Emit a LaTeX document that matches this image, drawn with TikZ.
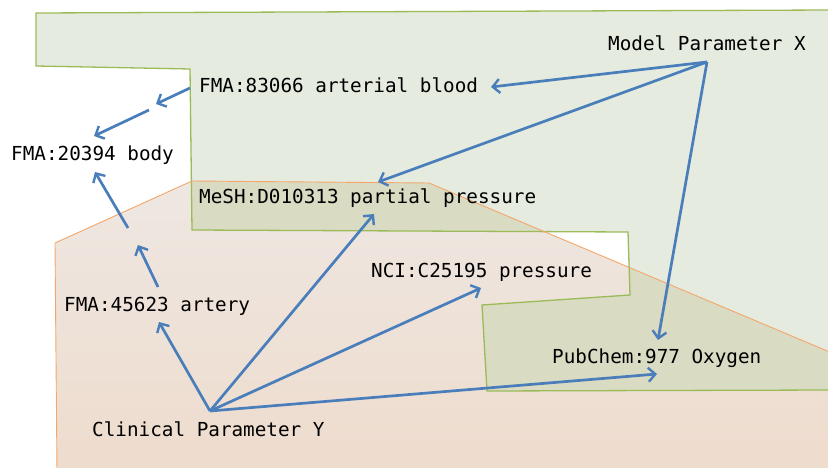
\documentclass[tikz,border=0pt]{standalone}
\usepackage{fontspec}
\newfontfamily\monofont{DejaVu Sans Mono}
\usetikzlibrary{arrows.meta}
\definecolor{gfill}{HTML}{E6EBDF}
\definecolor{ofilltop}{HTML}{EEE7E2}
\definecolor{ofillbot}{HTML}{EEDCCD}
\definecolor{ovfill}{HTML}{D9DBC3}
\definecolor{gline}{HTML}{9BBB59}
\definecolor{oline}{HTML}{F5A66B}
\definecolor{arr}{HTML}{4A7EBB}
\tikzset{
  lbl/.style={anchor=base west, inner sep=0pt, font=\monofont\fontsize{19.3pt}{22pt}\selectfont},
  conn/.style={draw=arr, line width=2.7pt, -{Straight Barb[length=7pt,width=14pt,line width=2.4pt]}}
}
\begin{document}
\begin{tikzpicture}[x=1pt,y=-1pt]
\useasboundingbox (0,0) rectangle (828,468);
\def\greenpath{(36,13) -- (832,10) -- (832,390) -- (487,391) -- (482,305) -- (630,295) -- (628,232) -- (192,230) -- (190,69) -- (36,66) -- cycle}
\def\orangepath{(55,243) -- (192,181) -- (429,183) -- (832,353) -- (832,472) -- (57,472) -- cycle}
\fill[gfill] \greenpath;
\shade[top color=ofilltop, bottom color=ofillbot] \orangepath;
\begin{scope}
  \clip \greenpath;
  \fill[ovfill] \orangepath;
\end{scope}
\draw[gline, line width=1.3pt] \greenpath;
\draw[oline, line width=0.9pt] \orangepath;

\node[lbl] (mx) at (608,50.7) {Model Parameter X};
\node[lbl] (ab) at (199,92.7) {FMA:83066 arterial blood};
\node[lbl] (bd) at (11,161) {FMA:20394 body};
\node[lbl] (ms) at (199,204) {MeSH:D010313 partial pressure};
\node[lbl] (nc) at (371,277) {NCI:C25195 pressure};
\node[lbl] (ar) at (64,311) {FMA:45623 artery};
\node[lbl] (pc) at (552,363) {PubChem:977 Oxygen};
\node[lbl] (cy) at (92,436) {Clinical Parameter Y};

\coordinate (mxo) at (707,62);
\coordinate (abin) at (491,87);
\coordinate (msin) at (378,182);
\coordinate (pcin) at (658,340);
\coordinate (about) at (190,88);
\coordinate (mid1) at (156,104);
\coordinate (mid1b) at (149,110);
\coordinate (bdin1) at (94,136);
\coordinate (mid2) at (128,228);
\coordinate (bdin2) at (95,172);
\coordinate (arout) at (158,287);
\coordinate (mid2b) at (138,245);
\coordinate (cyo) at (210,411);
\coordinate (arin) at (159,322);
\coordinate (msin2) at (374,214);
\coordinate (ncin) at (481,288);
\coordinate (pcin2) at (657,374);

\draw[conn] (mxo) -- (abin);
\draw[conn] (mxo) -- (msin);
\draw[conn] (mxo) -- (pcin);
\draw[conn] (about) -- (mid1);
\draw[conn] (mid1b) -- (bdin1);
\draw[conn] (mid2) -- (bdin2);
\draw[conn] (arout) -- (mid2b);
\draw[conn] (cyo) -- (arin);
\draw[conn] (cyo) -- (msin2);
\draw[conn] (cyo) -- (ncin);
\draw[conn] (cyo) -- (pcin2);
\end{tikzpicture}
\end{document}
